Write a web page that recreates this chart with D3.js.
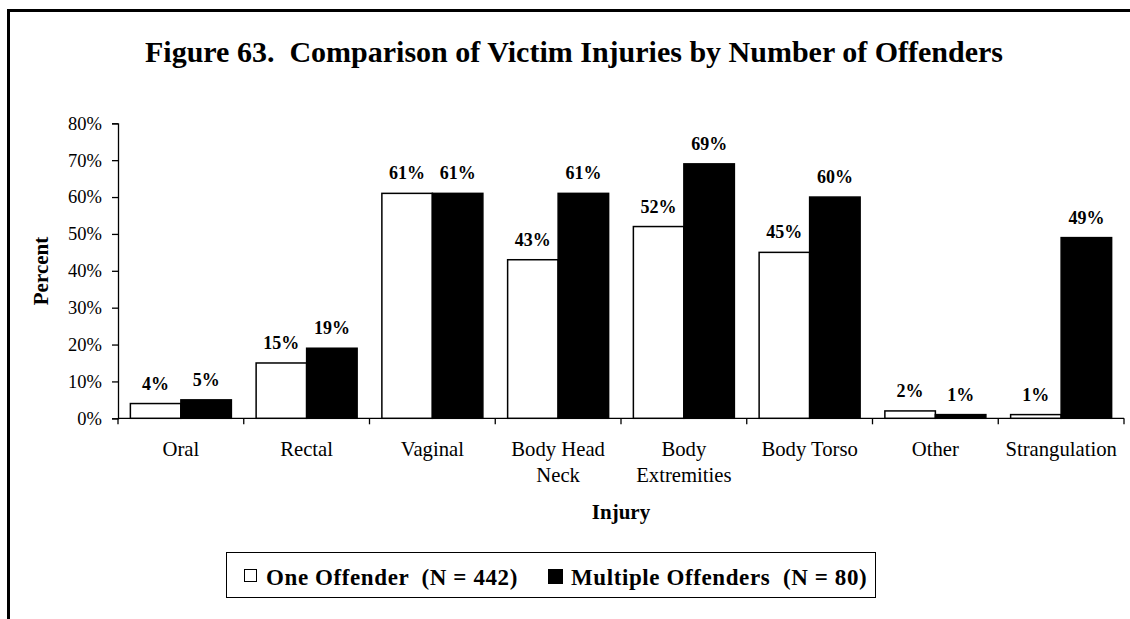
<!DOCTYPE html>
<html>
<head>
<meta charset="utf-8">
<script src="https://cdn.jsdelivr.net/npm/d3@7/dist/d3.min.js"></script>
<style>
  html, body { margin: 0; padding: 0; background: #fff; }
  svg { display: block; }
  text { font-family: "Liberation Serif", "Times New Roman", serif; fill: #000; white-space: pre; }
</style>
</head>
<body>
<svg id="chart" width="1130" height="619"></svg>
<script>
// Injury categories (each entry lists the lines of its axis label)
const categories = [
  ["Oral"], ["Rectal"], ["Vaginal"], ["Body Head", "Neck"],
  ["Body", "Extremities"], ["Body Torso"], ["Other"], ["Strangulation"]
];
const seriesNames = ["One Offender  (N = 442)", "Multiple Offenders  (N = 80)"];
const oneOffender = [4, 15, 61, 43, 52, 45, 2, 1];
const multipleOffenders = [5, 19, 61, 61, 69, 60, 1, 49];
const yTicks = [0, 10, 20, 30, 40, 50, 60, 70, 80];
const fills = ["#fff", "#000"];

const svg = d3.select("#chart");

// outer frame (left and top edges)
svg.append("path")
  .attr("d", "M8.5,619 V10.5 H1130")
  .attr("fill", "none").attr("stroke", "#000").attr("stroke-width", 3);

svg.append("text")
  .attr("x", 574).attr("y", 62)
  .attr("text-anchor", "middle")
  .style("font-size", "30px").style("font-weight", "bold")
  .text("Figure 63.  Comparison of Victim Injuries by Number of Offenders");

const keys = categories.map(d => d.join(" "));
const x0 = d3.scaleBand().domain(keys).range([118, 1124]).paddingInner(0).paddingOuter(0);
const x1 = d3.scaleBand().domain([0, 1]).range([0, x0.bandwidth()]).paddingInner(0).paddingOuter(0.245);
const y = d3.scaleLinear().domain([0, 80]).range([418.3, 123.3]);

// y axis
const yAxis = svg.append("g").attr("transform", "translate(118,0)")
  .call(d3.axisLeft(y).tickValues(yTicks).tickSize(6).tickPadding(10).tickFormat(d => d + "%"));
yAxis.select(".domain").attr("stroke-width", 1.3);
yAxis.selectAll(".tick line").attr("stroke-width", 1.3);
yAxis.selectAll("text").style("font-size", "18.5px").style("font-family", "Liberation Serif").attr("fill", "#000");

// x axis: ticks at category boundaries
const xg = svg.append("g").attr("transform", "translate(0,418.3)");
xg.append("line").attr("x1", 118).attr("x2", 1124).attr("stroke", "#000").attr("stroke-width", 1.3);
const bounds = keys.map(k => x0(k)).concat([x0(keys[keys.length - 1]) + x0.bandwidth()]);
xg.selectAll(".bt").data(bounds).join("line")
  .attr("x1", d => d).attr("x2", d => d).attr("y1", 0).attr("y2", 6)
  .attr("stroke", "#000").attr("stroke-width", 1.3);
xg.selectAll(".cl").data(categories).join("text")
  .attr("text-anchor", "middle")
  .attr("transform", (d, i) => `translate(${x0(keys[i]) + x0.bandwidth() / 2},38)`)
  .style("font-size", "20.7px")
  .each(function (lines) {
    d3.select(this).selectAll("tspan").data(lines).join("tspan")
      .attr("x", 0).attr("dy", (l, j) => j === 0 ? 0 : 25.7).text(l => l);
  });

// bars
const series = [oneOffender, multipleOffenders];
series.forEach((vals, s) => {
  const g = svg.append("g");
  g.selectAll("rect").data(vals).join("rect")
    .attr("x", (v, i) => x0(keys[i]) + x1(s))
    .attr("y", v => y(v))
    .attr("width", x1.bandwidth())
    .attr("height", v => y(0) - y(v))
    .attr("fill", fills[s]).attr("stroke", "#000").attr("stroke-width", 1.5);
  g.selectAll("text").data(vals).join("text")
    .attr("x", (v, i) => x0(keys[i]) + x1(s) + x1.bandwidth() / 2)
    .attr("y", v => y(v) - 14)
    .attr("text-anchor", "middle")
    .style("font-size", "18px").style("font-weight", "bold")
    .text(v => v + "%");
});

// axis titles
svg.append("text")
  .attr("transform", "translate(48,271) rotate(-90)")
  .attr("text-anchor", "middle")
  .style("font-size", "21px").style("font-weight", "bold")
  .text("Percent");
svg.append("text")
  .attr("x", 621).attr("y", 519)
  .attr("text-anchor", "middle")
  .style("font-size", "21px").style("font-weight", "bold")
  .text("Injury");

// legend
const lg = svg.append("g");
lg.append("rect").attr("x", 226.5).attr("y", 552.5).attr("width", 649).attr("height", 45)
  .attr("fill", "#fff").attr("stroke", "#000").attr("stroke-width", 1);
const legendPos = [{ sx: 244, tx: 266 }, { sx: 548, tx: 571 }];
seriesNames.forEach((name, s) => {
  lg.append("rect").attr("x", legendPos[s].sx + 0.5).attr("y", 569.5)
    .attr("width", s === 0 ? 12 : 14).attr("height", s === 0 ? 12 : 14)
    .attr("fill", fills[s]).attr("stroke", "#000").attr("stroke-width", 1);
  lg.append("text").attr("x", legendPos[s].tx).attr("y", 584.5)
    .style("font-size", "23px").style("font-weight", "bold")
    .style("letter-spacing", "0.6px")
    .text(name);
});
</script>
</body>
</html>
